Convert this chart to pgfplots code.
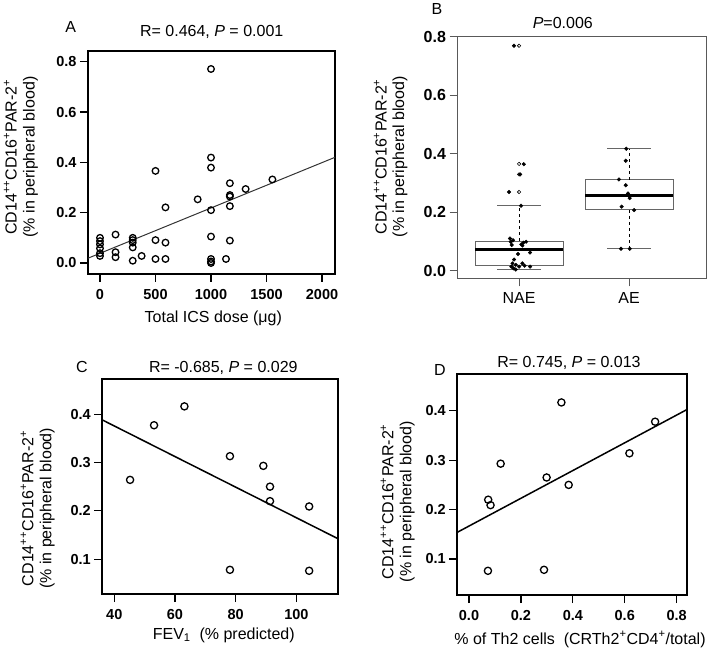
\documentclass[border=0pt]{standalone}
\usepackage{pgfplots}
\usepackage{pgfplotstable}
\pgfplotsset{compat=1.18}
\usepackage{fontspec}
\setmainfont{Liberation Sans}
\newcommand{\fs}[1]{\fontsize{#1}{#1}\selectfont}

\pgfplotstableread{
x y
0 0.100
0 0.087
0 0.074
0 0.058
0 0.039
0 0.028
140 0.113
140 0.043
140 0.023
295 0.100
295 0.091
295 0.081
295 0.062
295 0.009
375 0.028
500 0.366
500 0.091
500 0.016
590 0.221
590 0.081
590 0.016
880 0.253
1000 0.771
1000 0.419
1000 0.379
1000 0.210
1000 0.105
1000 0.016
1000 0.006
1000 0.000
1135 0.016
1170 0.317
1170 0.270
1170 0.264
1170 0.226
1170 0.089
1312 0.294
1553 0.332
}\dataA

\pgfplotstableread{
x y
0.954 0.769
1.043 0.364
1.010 0.329
0.908 0.269
1.018 0.222
0.917 0.110
0.924 0.099
0.933 0.088
0.945 0.104
1.040 0.096
1.064 0.099
1.020 0.090
1.030 0.086
0.990 0.057
1.100 0.062
0.954 0.038
0.940 0.025
0.930 0.014
0.950 0.008
0.970 0.004
1.000 0.014
1.030 0.025
1.050 0.017
1.100 0.014
0.970 0.020
}\dataBnae

\pgfplotstableread{
x y
1.975 0.417
1.970 0.376
1.908 0.312
1.970 0.292
1.990 0.264
2.000 0.256
2.006 0.248
1.933 0.219
2.046 0.207
1.927 0.075
2.006 0.075
}\dataBae

\pgfplotstableread{
x y
1.0 0.769
1.0 0.365
1.0 0.329
1.0 0.269
}\dataBout

\pgfplotstableread{
x y
45.2 0.264
53.1 0.377
63.1 0.416
78.1 0.313
78.1 0.078
89.1 0.293
91.3 0.250
91.3 0.220
104.2 0.209
104.2 0.076
}\dataC

\pgfplotstableread{
x y
0.074 0.220
0.083 0.209
0.073 0.076
0.122 0.293
0.299 0.265
0.289 0.078
0.356 0.417
0.384 0.250
0.618 0.314
0.717 0.378
}\dataD

\pgfplotsset{
  panel/.style={
    scale only axis, anchor=south west,
    axis line style={line width=1.8pt},
    tick align=outside, xtick pos=left, ytick pos=left,
    major tick length=8pt,
    tick style={line width=1.2pt, black},
    tick label style={font=\fs{14.5}},
    /pgf/number format/assume math mode=true,
    xticklabel={\textbf{\pgfmathprintnumber{\tick}}},
    yticklabel={\textbf{\pgfmathprintnumber{\tick}}},
    x tick label style={yshift=-4pt},
  },
  circ/.style={only marks, mark=o, mark size=3.3pt, mark options={line width=1.3pt, black}},
  onedec/.style={/pgf/number format/fixed, /pgf/number format/zerofill, /pgf/number format/precision=1}
}

\begin{document}
\begin{tikzpicture}
\path[use as bounding box] (0,0) rectangle (711pt,650pt);

% ---------- Panel A ----------
\begin{axis}[panel, at={(88pt,376pt)}, width=247pt, height=223pt,
  xmin=-108, xmax=2117, ymin=-0.0437, ymax=0.8425,
  xtick={0,500,1000,1500,2000}, ytick={0,0.2,0.4,0.6,0.8},
  x tick label style={/pgf/number format/1000 sep={}},
  y tick label style={onedec}]
\addplot[line width=1pt, black!80] coordinates {(-108,0.019) (2117,0.420)};
\addplot[circ] table {\dataA};
\end{axis}

% ---------- Panel B ----------
\begin{axis}[panel, at={(457.5pt,371.7pt)}, width=248.5pt, height=241.6pt,
  xmin=0.44, xmax=2.70, ymin=-0.026, ymax=0.80,
  axis line style={line width=1pt, black!65},
  tick style={line width=1pt, black!65},
  xtick={1,2}, xticklabels={NAE,AE},
  x tick label style={font=\fs{16}, yshift=1pt},
  y tick label style={onedec, font=\fs{16}},
  ytick={0,0.2,0.4,0.6,0.8}]
% NAE box
\addplot[line width=1pt, black!60] coordinates {(0.6,0.018) (1.4,0.018) (1.4,0.101) (0.6,0.101) (0.6,0.018)};
\addplot[line width=0.8pt, black, dashed] coordinates {(1,0.101) (1,0.222)};
\addplot[line width=0.8pt, black, dashed] coordinates {(1,0.018) (1,0.005)};
\addplot[line width=1.3pt, black!60] coordinates {(0.8,0.222) (1.2,0.222)};
\addplot[line width=1.3pt, black!60] coordinates {(0.8,0.005) (1.2,0.005)};
\addplot[line width=3pt, black] coordinates {(0.6,0.073) (1.4,0.073)};
% AE box
\addplot[line width=1pt, black!60] coordinates {(1.6,0.2075) (2.4,0.2075) (2.4,0.311) (1.6,0.311) (1.6,0.2075)};
\addplot[line width=0.8pt, black, dashed] coordinates {(2,0.311) (2,0.417)};
\addplot[line width=0.8pt, black, dashed] coordinates {(2,0.2075) (2,0.075)};
\addplot[line width=1.3pt, black!60] coordinates {(1.8,0.417) (2.2,0.417)};
\addplot[line width=1.3pt, black!60] coordinates {(1.8,0.075) (2.2,0.075)};
\addplot[line width=3pt, black] coordinates {(1.6,0.256) (2.4,0.256)};
% points
\addplot[only marks, mark=o, mark size=1.7pt, mark options={line width=0.6pt, black}] table {\dataBout};
\addplot[only marks, mark=*, mark size=1.8pt, black] table {\dataBnae};
\addplot[only marks, mark=*, mark size=1.8pt, black] table {\dataBae};
\end{axis}

% ---------- Panel C ----------
\begin{axis}[panel, at={(102.3pt,56pt)}, width=236pt, height=214.7pt,
  xmin=36.05, xmax=113.8, ymin=0.028, ymax=0.472,
  xtick={40,60,80,100}, ytick={0.1,0.2,0.3,0.4},
  y tick label style={onedec}]
\addplot[line width=1.5pt, black] coordinates {(36.05,0.388) (113.8,0.142)};
\addplot[circ, mark size=3.6pt] table {\dataC};
\end{axis}

% ---------- Panel D ----------
\begin{axis}[panel, at={(457.3pt,55pt)}, width=230pt, height=220.7pt,
  xmin=-0.045, xmax=0.841, ymin=0.027, ymax=0.474,
  xtick={0,0.2,0.4,0.6,0.8}, ytick={0.1,0.2,0.3,0.4},
  x tick label style={onedec}, y tick label style={onedec}]
\addplot[line width=1.5pt, black] coordinates {(-0.045,0.154) (0.841,0.403)};
\addplot[circ, mark size=3.6pt] table {\dataD};
\end{axis}

% ---------- Text ----------
\begin{scope}[every node/.style={font=\fs{16}, inner sep=0pt}]
% A
\node[anchor=base] at (70.8pt,617.7pt) {A};
\node[anchor=base] at (211.7pt,613.3pt) {R= 0.464, \textit{P} = 0.001};
\node[anchor=base, rotate=90] at (16.7pt,493pt) {CD14\textsuperscript{++}CD16\textsuperscript{+}PAR-2\textsuperscript{+}};
\node[anchor=base, rotate=90] at (34.5pt,493pt) {(\% in peripheral blood)};
\node[anchor=base] at (213.3pt,327pt) {Total ICS dose (μg)};
% B
\node[anchor=base] at (437pt,635pt) {B};
\node[anchor=base] at (562.8pt,621.7pt) {\textit{P}=0.006};
\node[anchor=base, rotate=90] at (386.7pt,493.3pt) {CD14\textsuperscript{++}CD16\textsuperscript{+}PAR-2\textsuperscript{+}};
\node[anchor=base, rotate=90] at (404pt,493.3pt) {(\% in peripheral blood)};
% C
\node[anchor=base] at (82pt,277.3pt) {C};
\node[anchor=base] at (223.3pt,277.3pt) {R= -0.685, \textit{P} = 0.029};
\node[anchor=base, rotate=90] at (33.3pt,141.7pt) {CD14\textsuperscript{++}CD16\textsuperscript{+}PAR-2\textsuperscript{+}};
\node[anchor=base, rotate=90] at (51.3pt,141.7pt) {(\% in peripheral blood)};
\node[anchor=base] at (223.8pt,11pt) {FEV\textsubscript{1}\ \ (\% predicted)};
% D
\node[anchor=base] at (440pt,274pt) {D};
\node[anchor=base] at (569pt,282.3pt) {R= 0.745, \textit{P} = 0.013};
\node[anchor=base, rotate=90] at (393.3pt,148.3pt) {CD14\textsuperscript{++}CD16\textsuperscript{+}PAR-2\textsuperscript{+}};
\node[anchor=base, rotate=90] at (411.3pt,148.3pt) {(\% in peripheral blood)};
\node[anchor=base] at (580pt,6pt) {\% of Th2 cells\ \ (CRTh2\textsuperscript{+}CD4\textsuperscript{+}/total)};
\end{scope}
\end{tikzpicture}
\end{document}
